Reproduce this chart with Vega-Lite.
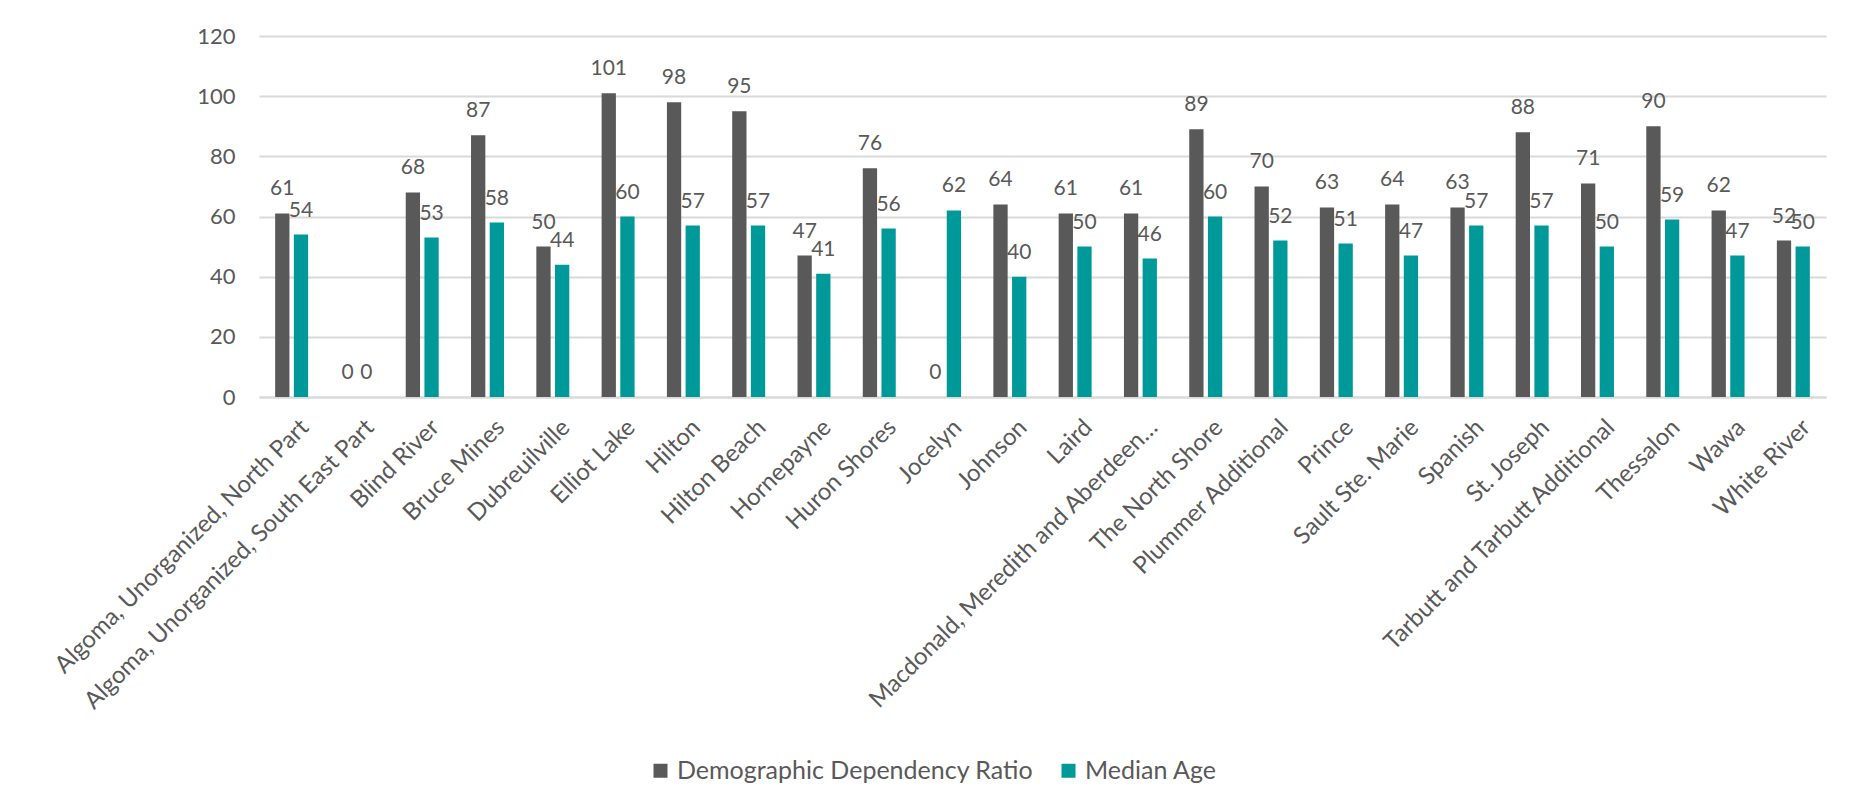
{
  "$schema": "https://vega.github.io/schema/vega-lite/v6.json",
  "width": 1567,
  "height": 361,
  "autosize": {"type": "none"},
  "padding": {"left": 259, "top": 36, "right": 36, "bottom": 407},
  "background": "white",
  "config": {
    "font": "Lato",
    "view": {"stroke": null},
    "axis": {"labelColor": "#595959", "labelFont": "Lato", "titleColor": "#595959"},
    "legend": {"labelColor": "#595959", "labelFont": "Lato", "padding": 0}
  },
  "data": {
    "values": [
      {"region": "Algoma, Unorganized, North Part", "series": "Demographic Dependency Ratio", "value": 61},
      {"region": "Algoma, Unorganized, North Part", "series": "Median Age", "value": 54},
      {"region": "Algoma, Unorganized, South East Part", "series": "Demographic Dependency Ratio", "value": 0},
      {"region": "Algoma, Unorganized, South East Part", "series": "Median Age", "value": 0},
      {"region": "Blind River", "series": "Demographic Dependency Ratio", "value": 68},
      {"region": "Blind River", "series": "Median Age", "value": 53},
      {"region": "Bruce Mines", "series": "Demographic Dependency Ratio", "value": 87},
      {"region": "Bruce Mines", "series": "Median Age", "value": 58},
      {"region": "Dubreuilville", "series": "Demographic Dependency Ratio", "value": 50},
      {"region": "Dubreuilville", "series": "Median Age", "value": 44},
      {"region": "Elliot Lake", "series": "Demographic Dependency Ratio", "value": 101},
      {"region": "Elliot Lake", "series": "Median Age", "value": 60},
      {"region": "Hilton", "series": "Demographic Dependency Ratio", "value": 98},
      {"region": "Hilton", "series": "Median Age", "value": 57},
      {"region": "Hilton Beach", "series": "Demographic Dependency Ratio", "value": 95},
      {"region": "Hilton Beach", "series": "Median Age", "value": 57},
      {"region": "Hornepayne", "series": "Demographic Dependency Ratio", "value": 47},
      {"region": "Hornepayne", "series": "Median Age", "value": 41},
      {"region": "Huron Shores", "series": "Demographic Dependency Ratio", "value": 76},
      {"region": "Huron Shores", "series": "Median Age", "value": 56},
      {"region": "Jocelyn", "series": "Demographic Dependency Ratio", "value": 0},
      {"region": "Jocelyn", "series": "Median Age", "value": 62},
      {"region": "Johnson", "series": "Demographic Dependency Ratio", "value": 64},
      {"region": "Johnson", "series": "Median Age", "value": 40},
      {"region": "Laird", "series": "Demographic Dependency Ratio", "value": 61},
      {"region": "Laird", "series": "Median Age", "value": 50},
      {"region": "Macdonald, Meredith and Aberdeen…", "series": "Demographic Dependency Ratio", "value": 61},
      {"region": "Macdonald, Meredith and Aberdeen…", "series": "Median Age", "value": 46},
      {"region": "The North Shore", "series": "Demographic Dependency Ratio", "value": 89},
      {"region": "The North Shore", "series": "Median Age", "value": 60},
      {"region": "Plummer Additional", "series": "Demographic Dependency Ratio", "value": 70},
      {"region": "Plummer Additional", "series": "Median Age", "value": 52},
      {"region": "Prince", "series": "Demographic Dependency Ratio", "value": 63},
      {"region": "Prince", "series": "Median Age", "value": 51},
      {"region": "Sault Ste. Marie", "series": "Demographic Dependency Ratio", "value": 64},
      {"region": "Sault Ste. Marie", "series": "Median Age", "value": 47},
      {"region": "Spanish", "series": "Demographic Dependency Ratio", "value": 63},
      {"region": "Spanish", "series": "Median Age", "value": 57},
      {"region": "St. Joseph", "series": "Demographic Dependency Ratio", "value": 88},
      {"region": "St. Joseph", "series": "Median Age", "value": 57},
      {"region": "Tarbutt and Tarbutt Additional", "series": "Demographic Dependency Ratio", "value": 71},
      {"region": "Tarbutt and Tarbutt Additional", "series": "Median Age", "value": 50},
      {"region": "Thessalon", "series": "Demographic Dependency Ratio", "value": 90},
      {"region": "Thessalon", "series": "Median Age", "value": 59},
      {"region": "Wawa", "series": "Demographic Dependency Ratio", "value": 62},
      {"region": "Wawa", "series": "Median Age", "value": 47},
      {"region": "White River", "series": "Demographic Dependency Ratio", "value": 52},
      {"region": "White River", "series": "Median Age", "value": 50}
    ]
  },
  "encoding": {
    "x": {
      "field": "region",
      "type": "nominal",
      "sort": null,
      "title": null,
      "scale": {"paddingInner": 0.495, "paddingOuter": 0.2475},
      "axis": {
        "labelAngle": -45,
        "labelAlign": "right",
        "labelBaseline": "top",
        "labelFontSize": 24,
        "labelPadding": 18,
        "labelOffset": 5,
        "labelLimit": 700,
        "ticks": false,
        "domain": true,
        "domainColor": "#D9D9D9",
        "domainWidth": 2,
        "grid": false
      }
    },
    "xOffset": {
      "field": "series",
      "type": "nominal",
      "scale": {"paddingInner": 0.235, "paddingOuter": 0}
    },
    "y": {
      "field": "value",
      "type": "quantitative",
      "title": null,
      "scale": {"domain": [0, 120], "nice": false},
      "axis": {
        "values": [0, 20, 40, 60, 80, 100, 120],
        "labelFontSize": 22,
        "labelPadding": 24,
        "ticks": false,
        "domain": false,
        "grid": true,
        "gridColor": "#D9D9D9",
        "gridWidth": 1.8
      }
    }
  },
  "layer": [
    {
      "mark": {"type": "bar"},
      "encoding": {
        "color": {
          "field": "series",
          "type": "nominal",
          "title": null,
          "scale": {"domain": ["Demographic Dependency Ratio", "Median Age"], "range": ["#595959", "#009999"]},
          "legend": {
            "orient": "none",
            "direction": "horizontal",
            "legendX": 389,
            "legendY": 722,
            "symbolType": "square",
            "symbolSize": 196,
            "symbolStrokeWidth": 0,
            "labelFontSize": 25,
            "labelOffset": 4,
            "columnPadding": 22,
            "labelLimit": 600
          }
        }
      }
    },
    {
      "mark": {"type": "text", "baseline": "alphabetic", "align": "center", "dy": -18, "fontSize": 21, "color": "#595959", "font": "Lato"},
      "encoding": {
        "text": {"field": "value", "type": "quantitative"}
      }
    }
  ]
}
